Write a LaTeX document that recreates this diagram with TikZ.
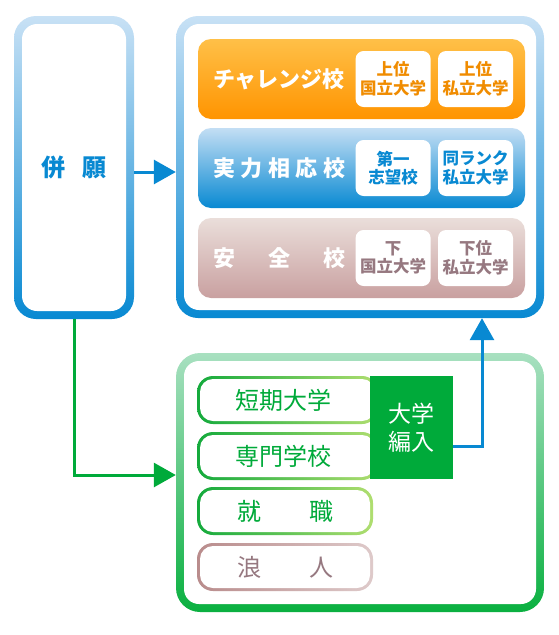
\documentclass[tikz,border=0pt]{standalone}
\usepackage{fontspec}
\setmainfont{Noto Sans CJK JP}
\usetikzlibrary{positioning}
\usetikzlibrary{arrows.meta}
\definecolor{skyblue}{RGB}{200,225,245}
\definecolor{seablue}{RGB}{8,137,210}
\definecolor{mintgreen}{RGB}{168,224,192}
\definecolor{leafgreen}{RGB}{10,176,64}
\definecolor{deepgreen}{RGB}{0,170,58}
\definecolor{orangetop}{RGB}{255,192,72}
\definecolor{orangebot}{RGB}{255,148,0}
\definecolor{orangetext}{RGB}{240,140,0}
\definecolor{bluetop}{RGB}{195,222,244}
\definecolor{pinktop}{RGB}{234,222,218}
\definecolor{pinkbot}{RGB}{201,160,160}
\definecolor{mauvetext}{RGB}{150,120,128}
\definecolor{rowgreen}{RGB}{20,170,60}
\definecolor{rowlight}{RGB}{176,222,112}
\definecolor{rowmauve}{RGB}{185,140,140}
\definecolor{rowpale}{RGB}{222,202,202}
\tikzset{
    frameb/.style = {rectangle, inner sep=0pt, rounded corners=22pt, top color=skyblue, bottom color=seablue},
    frameg/.style = {rectangle, inner sep=0pt, rounded corners=24pt, top color=mintgreen, bottom color=leafgreen},
    inwhite/.style = {rectangle, inner sep=0pt, rounded corners=15pt, fill=white, align=center},
    bando/.style = {rectangle, inner sep=0pt, rounded corners=13pt, minimum width=327pt, minimum height=80pt, top color=orangetop, bottom color=orangebot},
    bandb/.style = {rectangle, inner sep=0pt, rounded corners=13pt, minimum width=327pt, minimum height=80pt, top color=bluetop, bottom color=seablue},
    bandp/.style = {rectangle, inner sep=0pt, rounded corners=13pt, minimum width=327pt, minimum height=80pt, top color=pinktop, bottom color=pinkbot},
    bandtext/.style = {inner sep=0pt, text=white, font=\fontsize{22}{22}\selectfont\bfseries},
    subo/.style = {rectangle, inner sep=0pt, rounded corners=8pt, fill=white, minimum width=75pt, minimum height=56pt, align=center, text=orangetext, font=\fontsize{16.5}{18.5}\selectfont\bfseries},
    subb/.style = {subo, text=seablue},
    subp/.style = {subo, text=mauvetext},
    rowg/.style = {rectangle, inner sep=0pt, rounded corners=16pt, minimum height=48pt, left color=rowgreen, right color=rowlight},
    rowp/.style = {rowg, left color=rowmauve, right color=rowpale},
    rowin/.style = {rectangle, inner sep=0pt, rounded corners=13pt, minimum height=42pt, fill=white, text=deepgreen, font=\fontsize{24}{24}\selectfont},
    edgeb/.style = {-{Triangle[length=22pt,width=24pt]}, line width=3pt, seablue}, % to schools
    edgeg/.style = {-{Triangle[length=22pt,width=24pt]}, line width=3pt, deepgreen}, % other paths
}

\begin{document}
\begin{tikzpicture}[x=1pt, y=1pt]
  \useasboundingbox (0,0) rectangle (559,-635);
  % apply box
  \node[frameb, minimum width=120pt, minimum height=303pt] (heigan) at (74,-167.5) {};
  \node[inwhite, minimum width=104pt, minimum height=287pt, text=seablue, font=\fontsize{24}{24}\selectfont\bfseries] at (heigan) {併\hspace{17pt}願};
  % universities
  \node[frameb, minimum width=368pt, minimum height=302pt] (ouen) at (360,-167) {};
  \node[inwhite, minimum width=352pt, minimum height=286pt] at (ouen) {};
  \node[bando] (challenge) at (361.5,-79) {};
  \node[bandb] (jitsuryoku) at (361.5,-168) {};
  \node[bandp] (anzen) at (361.5,-258) {};
  \node[bandtext, right=15pt of challenge.west] {\makebox[132pt][s]{チャレンジ校}};
  \node[bandtext, right=15pt of jitsuryoku.west] {\makebox[132pt][s]{実\hfill 力\hfill 相\hfill 応\hfill 校}};
  \node[bandtext, right=15pt of anzen.west] {\makebox[132pt][s]{安\hfill 全\hfill 校}};
  \node[subo, left=12pt of challenge.east] (o2) {上位\\私立大学};
  \node[subo, left=7pt of o2] (o1) {上位\\国立大学};
  \node[subb, left=12pt of jitsuryoku.east] (b2) {同ランク\\私立大学};
  \node[subb, left=7pt of b2] (b1) {第一\\志望校};
  \node[subp, left=12pt of anzen.east] (p2) {下位\\私立大学};
  \node[subp, left=7pt of p2] (p1) {下\\国立大学};
  % other paths
  \node[frameg, minimum width=368pt, minimum height=259pt] (shinro) at (360,-482.5) {};
  \node[inwhite, minimum width=352pt, minimum height=243pt] at (shinro) {};
  \node[rowg, minimum width=181pt] (tanki) at (287.5,-400) {};
  \node[rowin, minimum width=175pt] at (tanki) {\hspace{-8pt}短期大学};
  \node[rowg, minimum width=181pt] (senmon) at (287.5,-456) {};
  \node[rowin, minimum width=175pt] at (senmon) {\hspace{-8pt}専門学校};
  \node[rowg, minimum width=176pt] (shushoku) at (285,-511) {};
  \node[rowin, minimum width=170pt] at (shushoku) {\makebox[96pt][s]{就\hfill 職}};
  \node[rowp, minimum width=176pt] (ronin) at (285,-567) {};
  \node[rowin, minimum width=170pt, text=mauvetext] at (ronin) {\makebox[96pt][s]{浪\hfill 人}};
  \node[rectangle, inner sep=0pt, fill=deepgreen, minimum width=83pt, minimum height=103pt, align=center, text=white, font=\fontsize{23}{28}\selectfont] (hennyu) at (411.5,-427.5) {大学\\編入};
  % connectors
  \draw[edgeb] ([yshift=-4.5pt]heigan.east) -- ([yshift=-5pt]ouen.west);
  \draw[edgeg, rounded corners=0pt] (heigan.south) |- ([yshift=7.5pt]shinro.west);
  \draw[edgeb] ([yshift=-18.5pt]hennyu.east) -| ([xshift=122pt]ouen.south);
\end{tikzpicture}
\end{document}
